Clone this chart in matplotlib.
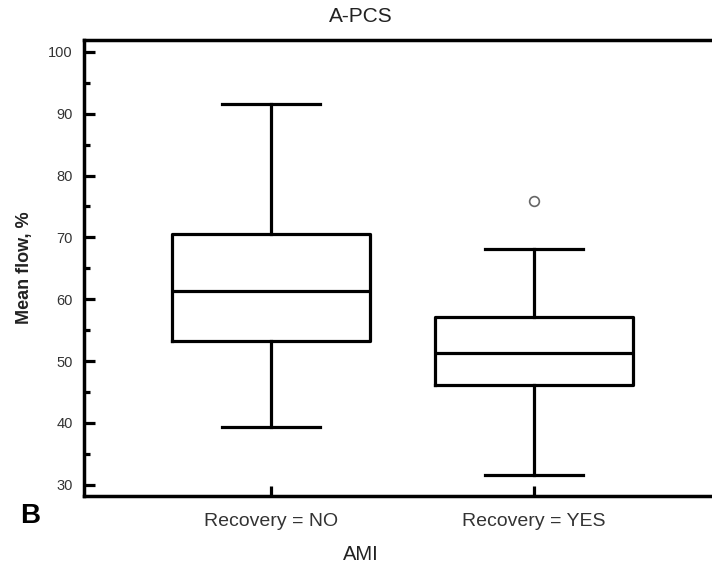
import matplotlib
matplotlib.use("Agg")
import matplotlib.pyplot as plt
from matplotlib.ticker import MultipleLocator

plt.rcParams['font.family'] = ['Liberation Sans', 'DejaVu Sans']

# summary stats for each AMI group (mean flow, %)
groups = ["Recovery = NO", "Recovery = YES"]
whislo = [39.4, 31.6]
q1 = [53.2, 46.2]
med = [61.4, 51.3]
q3 = [70.6, 57.1]
whishi = [91.5, 68.1]
fliers = [[], [75.8]]

stats = []
for i in range(len(groups)):
    stats.append(dict(label=groups[i], whislo=whislo[i], q1=q1[i], med=med[i],
                      q3=q3[i], whishi=whishi[i], fliers=fliers[i]))

fig = plt.figure(figsize=(7.12, 5.65), dpi=100)
ax = fig.add_axes([84 / 712, 1 - 496 / 565, (721 - 84) / 712, (496 - 40) / 565])

lw = 2.3
ax.bxp(stats, positions=[1, 2], widths=0.75, capwidths=0.375,
       boxprops=dict(color='black', linewidth=lw),
       medianprops=dict(color='black', linewidth=lw),
       whiskerprops=dict(color='black', linewidth=lw),
       capprops=dict(color='black', linewidth=lw),
       flierprops=dict(marker='o', markersize=7, markerfacecolor='white',
                       markeredgecolor='#666666', markeredgewidth=1.2))

ax.set_xlim(0.289, 2.711)
ax.set_ylim(28.2, 101.9)

ax.yaxis.set_major_locator(MultipleLocator(10))
ax.yaxis.set_minor_locator(MultipleLocator(5))
ax.tick_params(axis='y', which='major', direction='in', length=8, width=lw,
               labelsize=10.5, labelcolor='#333333', pad=8)
ax.tick_params(axis='y', which='minor', direction='in', length=4.5, width=lw)
ax.tick_params(axis='x', which='major', direction='in', length=7, width=lw,
               labelsize=14, labelcolor='#333333', pad=12)

for side in ['left', 'bottom', 'top']:
    ax.spines[side].set_linewidth(2.5)
ax.spines['right'].set_visible(False)

ax.set_ylabel("Mean flow, %", fontsize=13, fontweight='bold', color='#222222')
ax.yaxis.set_label_coords(-0.08, 0.5)

fig.text(361 / 712, 1 - 16 / 565, "A-PCS", ha='center', va='center',
         fontsize=15, color='#222222')
fig.text(361 / 712, 1 - 555 / 565, "AMI", ha='center', va='center',
         fontsize=14.5, color='#222222')
fig.text(30 / 712, 1 - 516 / 565, "B", ha='center', va='center',
         fontsize=20, fontweight='bold', color='black')

fig.savefig("out.png", dpi=100)
